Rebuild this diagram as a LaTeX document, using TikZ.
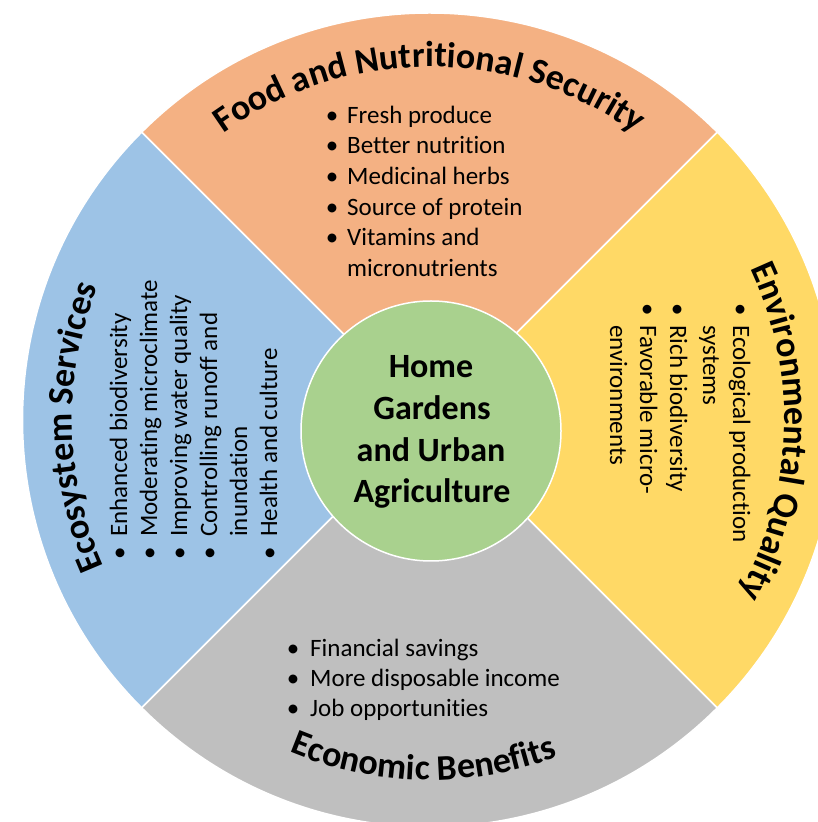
\documentclass[tikz,border=0pt]{standalone}
\usepackage{fontspec}
\setmainfont{Carlito}[Ligatures=NoCommon]
\usetikzlibrary{decorations.text}
\definecolor{secOrange}{HTML}{F4B183}
\definecolor{secBlue}{HTML}{9DC3E6}
\definecolor{secYellow}{HTML}{FFD966}
\definecolor{secGray}{HTML}{BFBFBF}
\definecolor{secGreen}{HTML}{A9D18E}
\newcommand\mytitlefont{\bfseries\fontsize{36}{40}\selectfont}
\newcommand\mylistfont{\fontsize{25}{30}\selectfont}
\newcommand\mycenterfont{\bfseries\fontsize{34}{40}\selectfont}
\begin{document}
\begin{tikzpicture}[x=1pt,y=1pt,
  sector/.style={draw=white, line width=1.5pt},
  li/.style={inner sep=0pt, font=\mylistfont, anchor=base west},
  bul/.style={inner sep=0pt, font=\mylistfont, anchor=base},
  ctr/.style={inner sep=0pt, font=\mycenterfont, anchor=base},
  ttl/.style={decorate, decoration={text along path, text align=center, text={|\mytitlefont|#1}}}
]
\useasboundingbox (0,0) rectangle (818,822);
\clip (0,0) rectangle (818,822);
\coordinate (C) at (429.5,402);
% sectors
\path[sector, fill=secOrange] (C) -- ([shift={(45:407)}]C) arc[start angle=45, end angle=135, radius=407] -- cycle;
\path[sector, fill=secBlue] (C) -- ([shift={(135:407)}]C) arc[start angle=135, end angle=225, radius=407] -- cycle;
\path[sector, fill=secGray] (C) -- ([shift={(225:407)}]C) arc[start angle=225, end angle=315, radius=407] -- cycle;
\path[sector, fill=secYellow] (C) -- ([shift={(-45:407)}]C) arc[start angle=-45, end angle=45, radius=407] -- cycle;
% hub
\node[circle, fill=secGreen, draw=white, line width=1.5pt, minimum size=260pt, inner sep=0pt] (hub) at (431,391) {};
\node[ctr] (c1) at (431,444) {Home};
\node[ctr] (c2) at (432,402) {Gardens};
\node[ctr] (c3) at (431,360) {and Urban};
\node[ctr] (c4) at (432,319) {Agriculture};
% titles
\path[ttl={Food and Nutritional Security}] ([shift={(150:353)}]C) arc[start angle=150, end angle=30, radius=353];
\path[ttl={Environmental Quality}] ([shift={(40:355)}]C) arc[start angle=40, end angle=-44, radius=355];
\path[ttl={Economic Benefits}] ([shift={(224:360)}]C) arc[start angle=224, end angle=314, radius=360];
\path[ttl={Ecosystem Services}] ([shift={(226:357)}]C) arc[start angle=226, end angle=136.5, radius=357];
% food list
\node[li] (f1) at (347,698.7) {Fresh produce};
\node[li] (f2) at (347,668) {Better nutrition};
\node[li] (f3) at (347,637.3) {Medicinal herbs};
\node[li] (f4) at (347,606.7) {Source of protein};
\node[li] (f5) at (347,576) {Vitamins and};
\node[li] (f6) at (347,545.3) {micronutrients};
\foreach \n in {f1,f2,f3,f4,f5}{\node[bul] (b\n) at ([xshift=-15pt]\n.base west) {•};}
% economic list
\node[li] (e1) at (310,165.3) {Financial savings};
\node[li] (e2) at (310,135.3) {More disposable income};
\node[li] (e3) at (310,105.3) {Job opportunities};
\foreach \n in {e1,e2,e3}{\node[bul] (b\n) at ([xshift=-17pt]\n.base west) {•};}
% ecosystem list
\node[li, rotate=90] (s1) at (127,285) {Enhanced biodiversity};
\node[li, rotate=90] (s2) at (157,285) {Moderating microclimate};
\node[li, rotate=90] (s3) at (187,285) {Improving water quality};
\node[li, rotate=90] (s4) at (217,285) {Controlling runoff and};
\node[li, rotate=90] (s5) at (247,285) {inundation};
\node[li, rotate=90] (s6) at (277,285) {Health and culture};
\foreach \n in {s1,s2,s3,s4,s6}{\node[bul, rotate=90] (b\n) at ([yshift=-16pt]\n.base west) {•};}
% environmental list
\node[li, rotate=-90] (v1) at (733,497) {Ecological production};
\node[li, rotate=-90] (v2) at (703,497) {systems};
\node[li, rotate=-90] (v3) at (670,497) {Rich biodiversity};
\node[li, rotate=-90] (v4) at (640,497) {Favorable micro-};
\node[li, rotate=-90] (v5) at (610,497) {environments};
\foreach \n in {v1,v3,v4}{\node[bul, rotate=-90] (b\n) at ([yshift=15pt]\n.base west) {•};}
\end{tikzpicture}
\end{document}
